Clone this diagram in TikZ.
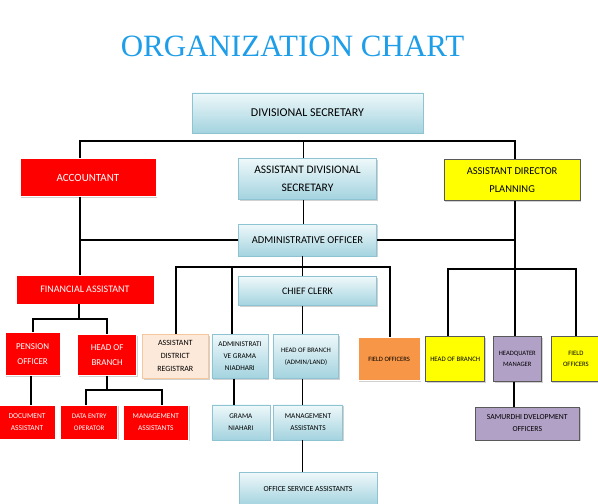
\documentclass[tikz,border=0pt]{standalone}
\usepackage{fontspec}
\setsansfont{Carlito}
\newfontfamily\titlefont{Liberation Serif}
\usepackage{tikz}
\usetikzlibrary{positioning}
\usetikzlibrary{calc, shapes, shadows}
\definecolor{titleBlue}{HTML}{1E9DE8}
\definecolor{chartRed}{HTML}{FF0000}
\definecolor{chartYellow}{HTML}{FFFF00}
\definecolor{chartPurple}{HTML}{B2A1C7}
\definecolor{chartOrange}{HTML}{F79646}
\definecolor{chartPeach}{HTML}{FDE9D9}
\definecolor{peachEdge}{HTML}{F7C79C}
\definecolor{blueTop}{HTML}{EEF8FA}
\definecolor{blueBottom}{HTML}{A3D3DF}
\definecolor{blueEdge}{HTML}{8EC3D1}
\tikzset{%
	% Specifications for style of boxes:
	base/.style = {rectangle, draw, line width=0.6pt, inner sep=1pt,
		align=center, font=\sffamily,
		drop shadow={shadow xshift=1.2pt, shadow yshift=-1.2pt, fill=black!30, opacity=0.6}},
	blueBox/.style = {base, draw=blueEdge, top color=blueTop, bottom color=blueBottom},
	redBox/.style = {base, draw=white, fill=chartRed, text=white},
	yellowBox/.style = {base, draw=black!65, fill=chartYellow},
	purpleBox/.style = {base, draw=black!65, fill=chartPurple},
	orangeBox/.style = {base, draw=white, fill=chartOrange},
	peachBox/.style = {base, draw=peachEdge, fill=chartPeach},
	link/.style = {line width=1.8pt, black},
}
\begin{document}
\begin{tikzpicture}[x=1pt, y=1pt]
\useasboundingbox (0,0) rectangle (598,504);

\node (ds) [blueBox, minimum width=231pt, minimum height=40pt,
	font=\sffamily\fontsize{12pt}{14pt}\selectfont] at (307.5,391) {DIVISIONAL SECRETARY};
\node (title) [above=36pt of ds, xshift=-15pt, inner sep=0pt, text=titleBlue,
	font=\titlefont\fontsize{31pt}{31pt}\selectfont] {ORGANIZATION CHART};

% second level
\node (ads) [blueBox, minimum width=138pt, minimum height=41pt, below=25pt of ds,
	font=\sffamily\fontsize{11.5pt}{18pt}\selectfont] {ASSISTANT DIVISIONAL\\ SECRETARY};
\node (acc) [redBox, minimum width=136pt, minimum height=38pt, left=82pt of ads.north west, anchor=north east,
	font=\sffamily\fontsize{11pt}{13pt}\selectfont] {ACCOUNTANT};
\node (adp) [yellowBox, minimum width=136pt, minimum height=41pt, right=67pt of ads.north east, anchor=north west,
	yshift=-1pt, font=\sffamily\fontsize{10.5pt}{18pt}\selectfont] {ASSISTANT DIRECTOR\\ PLANNING};

% middle spine
\node (ao) [blueBox, minimum width=138pt, minimum height=32pt, below=24pt of ads,
	font=\sffamily\fontsize{10.5pt}{12pt}\selectfont] {ADMINISTRATIVE OFFICER};
\node (cc) [blueBox, minimum width=138pt, minimum height=29pt, below=20pt of ao,
	font=\sffamily\fontsize{10pt}{12pt}\selectfont] {CHIEF CLERK};
\node (hobal) [blueBox, minimum width=65pt, minimum height=44pt, below=28pt of cc, xshift=-1.5pt,
	font=\sffamily\fontsize{6.8pt}{12pt}\selectfont] {HEAD OF BRANCH\\ (ADMIN/LAND)};
\node (mab) [blueBox, minimum width=69pt, minimum height=35pt, below=26pt of hobal, xshift=2pt,
	font=\sffamily\fontsize{7.4pt}{12pt}\selectfont] {MANAGEMENT\\ ASSISTANTS};
\node (osa) [blueBox, minimum width=138pt, minimum height=33pt, below=32pt of mab,
	font=\sffamily\fontsize{7.8pt}{10pt}\selectfont] {OFFICE SERVICE ASSISTANTS};
\node (avgn) [blueBox, minimum width=56pt, minimum height=44pt, left=5pt of hobal.north west, anchor=north east,
	font=\sffamily\fontsize{7.3pt}{12pt}\selectfont] {ADMINISTRATI\\ VE GRAMA\\ NIADHARI};
\node (gn) [blueBox, minimum width=58pt, minimum height=35pt, below=26pt of avgn, xshift=1pt,
	font=\sffamily\fontsize{7.2pt}{12pt}\selectfont] {GRAMA\\ NIAHARI};
\node (adr) [peachBox, minimum width=66pt, minimum height=44pt, left=3pt of avgn.north west, anchor=north east,
	font=\sffamily\fontsize{8pt}{13pt}\selectfont] {ASSISTANT\\ DISTRICT\\ REGISTRAR};

% accountant branch
\node (fa) [redBox, minimum width=138pt, minimum height=29pt, below=78pt of acc, xshift=-3pt,
	font=\sffamily\fontsize{10pt}{12pt}\selectfont] {FINANCIAL ASSISTANT};
\node (hobr) [redBox, minimum width=59pt, minimum height=41pt, left=5pt of adr.north west, anchor=north east,
	font=\sffamily\fontsize{9pt}{15pt}\selectfont] {HEAD OF\\ BRANCH};
\node (po) [redBox, minimum width=55pt, minimum height=43pt, left=17pt of hobr.north west, anchor=north east,
	yshift=2pt, font=\sffamily\fontsize{9pt}{15pt}\selectfont] {PENSION\\ OFFICER};
\node (doc) [redBox, minimum width=56pt, minimum height=34pt, below=29pt of po, xshift=-5.5pt,
	font=\sffamily\fontsize{7.5pt}{12pt}\selectfont] {DOCUMENT\\ ASSISTANT};
\node (deo) [redBox, minimum width=57pt, minimum height=34pt, right=5pt of doc.north east, anchor=north west,
	font=\sffamily\fontsize{7pt}{12pt}\selectfont] {DATA ENTRY\\ OPERATOR};
\node (mar) [redBox, minimum width=65pt, minimum height=35pt, right=5pt of deo.north east, anchor=north west,
	font=\sffamily\fontsize{7.4pt}{12pt}\selectfont] {MANAGEMENT\\ ASSISTANTS};

% planning branch
\node (foo) [orangeBox, minimum width=62pt, minimum height=43pt, right=19pt of hobal.north east, anchor=north west,
	yshift=-3pt, font=\sffamily\fontsize{6.6pt}{10pt}\selectfont] {FIELD OFFICERS};
\node (hoby) [yellowBox, minimum width=59pt, minimum height=45pt, right=5pt of foo.north east, anchor=north west,
	yshift=1pt, font=\sffamily\fontsize{6.8pt}{10pt}\selectfont] {HEAD OF BRANCH};
\node (hqm) [purpleBox, minimum width=48pt, minimum height=45pt, right=8pt of hoby.north east, anchor=north west,
	font=\sffamily\fontsize{6.6pt}{11pt}\selectfont] {HEADQUATER\\ MANAGER};
\node (foy) [yellowBox, minimum width=50pt, minimum height=45pt, right=9pt of hqm.north east, anchor=north west,
	font=\sffamily\fontsize{6.7pt}{11pt}\selectfont] {FIELD\\ OFFICERS};
\node (sdo) [purpleBox, minimum width=104pt, minimum height=33pt, below=25pt of hqm, xshift=10pt,
	font=\sffamily\fontsize{7.7pt}{12pt}\selectfont] {SAMURDHI DVELOPMENT\\ OFFICERS};

% connectors
\coordinate (accDrop) at ([xshift=-8pt]acc.south);
\coordinate (adpDrop) at ([xshift=3pt]adp.south);
\coordinate (spine) at ([xshift=-5pt]cc.south);
\draw[link] ([xshift=-8pt]acc.north) -- ++(0,17pt) -| ([xshift=3pt]adp.north);
\draw[link] ([xshift=-4pt]ads.north) -- ++(0,17pt);
\draw[link] ([xshift=-4pt]ads.south) -- ([xshift=-4pt]ao.north);
\draw[link] (accDrop) -- (accDrop |- fa.north);
\path let
	\p1 = (ao.west),
	\p2 = (accDrop)
in
	coordinate (aoLeft) at (\x2, \y1);
\draw[link] (ao.west) -- (aoLeft);
\path let
	\p1 = (ao.east),
	\p2 = (adpDrop)
in
	coordinate (aoRight) at (\x2, \y1);
\draw[link] (ao.east) -- (aoRight);
\draw[link] (adpDrop) -- (adpDrop |- hqm.north);
\draw[link] ([xshift=-7pt]hoby.north) -- ++(0,67pt) -| (foy.north);
\draw[link] ([xshift=-5pt]ao.south) -- ([xshift=-5pt]cc.north);
\draw[link] ([xshift=1pt]adr.north) -- ++(0,67pt) -| ([xshift=1pt]foo.north);
\draw[link] ([xshift=-8pt]avgn.north) -- ++(0,67pt);
\draw[link] (spine) -- (spine |- hobal.north);
\draw[link] (spine |- hobal.south) -- (spine |- mab.north);
\draw[link] (spine |- mab.south) -- (spine |- osa.north);
\draw[link] ([xshift=-6pt]avgn.south) -- ([xshift=-6pt]avgn.south |- gn.north);
\draw[link] ([xshift=-6pt]fa.south) -- ++(0,-14pt);
\draw[link] (po.north) -- ++(0,13pt) -| (hobr.north);
\draw[link] ([xshift=-2pt]po.south) -- ([xshift=-2pt]po.south |- doc.north);
\draw[link] (hobr.south) -- ++(0,-14pt);
\draw[link] ([xshift=-3pt]deo.north) -- ++(0,15pt) -| ([xshift=6pt]mar.north);
\draw[link] ([xshift=-3pt]hqm.south) -- ([xshift=-3pt]hqm.south |- sdo.north);
\end{tikzpicture}
\end{document}
